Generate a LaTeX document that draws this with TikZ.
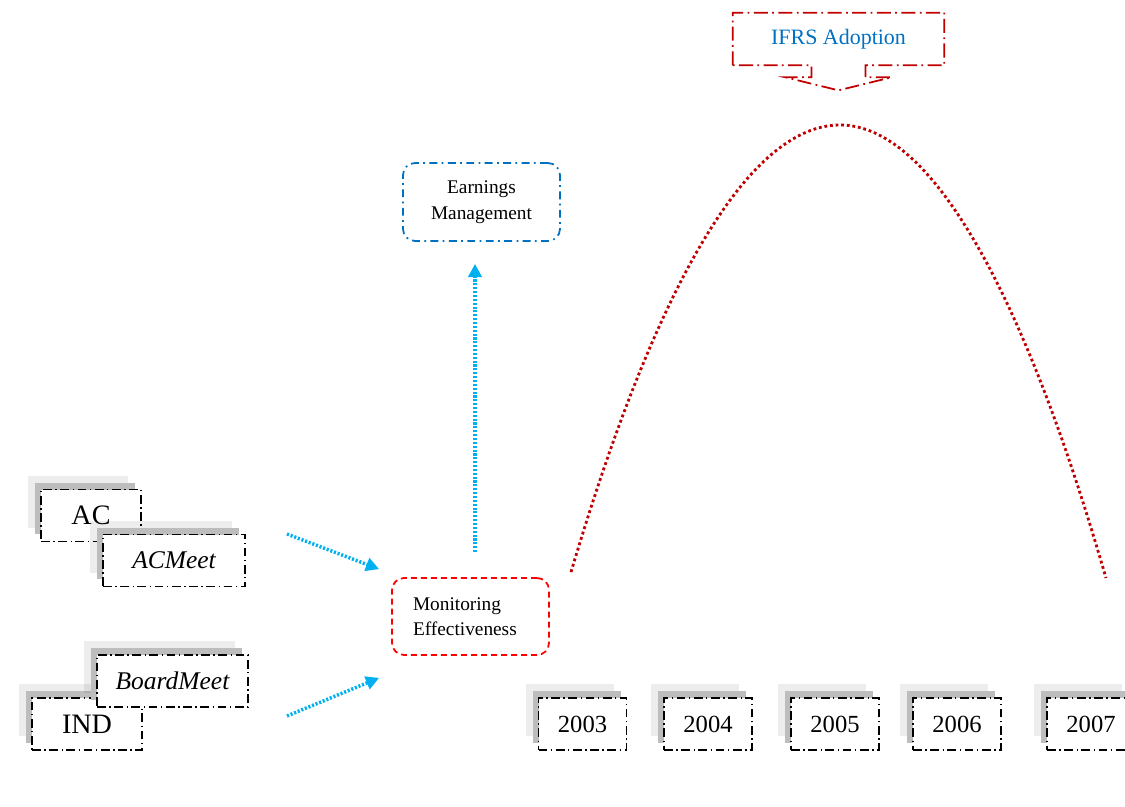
\documentclass[tikz,border=0pt]{standalone}
\usepackage{fontspec}
\setmainfont{Liberation Serif}
\usepackage{tikz}
\usetikzlibrary{shadows, arrows.meta, calc}
\definecolor{ifrsred}{HTML}{C00000}
\definecolor{ifrsblue}{HTML}{0070C0}
\definecolor{flowblue}{HTML}{00B0F0}
\definecolor{monred}{HTML}{FF0000}
\tikzstyle{varbox} = [draw, fill=white, line width=0.75pt, inner sep=0pt,
  dash pattern=on 5pt off 2pt on 0.8pt off 2pt, minimum height=1.04cm,
  general shadow={shadow xshift=-0.26cm, shadow yshift=0.28cm, fill=black, fill opacity=0.07},
  general shadow={shadow xshift=-0.12cm, shadow yshift=0.14cm, fill=black!26}]
\tikzstyle{bigvar} = [varbox, font=\fontsize{16}{19}\selectfont]
\tikzstyle{itvar} = [varbox, font=\fontsize{14.5}{17}\selectfont\itshape]
\tikzstyle{yearbox} = [varbox, minimum width=1.76cm, font=\fontsize{14}{17}\selectfont]
\tikzstyle{embox} = [draw=ifrsblue, line width=1pt, rounded corners=0.24cm,
  dash pattern=on 4.5pt off 2.5pt on 1pt off 2.5pt, align=center,
  minimum width=3.14cm, minimum height=1.56cm, font=\fontsize{11}{14.7}\selectfont]
\tikzstyle{monbox} = [draw=monred, line width=1pt, rounded corners=0.24cm,
  dash pattern=on 3.4pt off 2.3pt, align=left, text width=2.3cm, inner xsep=0.42cm,
  minimum height=1.54cm, font=\fontsize{11}{14.2}\selectfont]
\tikzstyle{ifrsbox} = [minimum width=4.22cm, minimum height=1.04cm, text=ifrsblue,
  font=\fontsize{12.5}{15}\selectfont]
\tikzstyle{callout} = [draw=ifrsred, line width=1pt, dash pattern=on 8pt off 2.5pt on 1pt off 2.5pt]
\tikzstyle{flow} = [draw=flowblue, line width=2pt,
  dash pattern=on 1.2pt off 1pt, -{Triangle[length=7.5pt, width=7.5pt]}]
\tikzstyle{trend} = [draw=ifrsred, line width=1.6pt, dash pattern=on 1.6pt off 1.6pt]

\begin{document}
\begin{tikzpicture}[x=0.02cm, y=-0.02cm]
  \useasboundingbox (0,0) rectangle (1125,807);

  % variables
  \node [bigvar, minimum width=2cm] (ac) at (91,515.5) {AC};
  \node [itvar, minimum width=2.84cm] (acmeet) at (174,560.5) {ACMeet};
  \node [bigvar, minimum width=2.2cm] (ind) at (87,724) {IND};
  \node [itvar, minimum width=3.02cm] (boardmeet) at (172.5,681) {BoardMeet};

  % years
  \foreach \yr/\xc in {2003/582.5, 2004/708, 2005/835, 2006/957, 2007/1091}
    \node [yearbox] (y\yr) at (\xc,724) {\yr};

  \node [embox] (earn) at (481.5,202) {Earnings\\Management};
  \node [monbox] (mon) at (470.5,616.5) {Monitoring\\Effectiveness};

  % IFRS callout
  \node [ifrsbox] (ifrs) at (838.5,39) {IFRS Adoption};
  \draw [callout] (ifrs.south west) -- (ifrs.north west) -- (ifrs.north east) -- (ifrs.south east)
    -- ($(ifrs.south)+(27,0)$) -- ++(0,12) -- ++(26,0) -- ($(ifrs.south)+(0,25)$)
    -- ($(ifrs.south)+(-53,12)$) -- ++(26,0) -- ++(0,-12) -- cycle;

  % trend
  \coordinate (rise) at (571,572);
  \coordinate (peak) at (840,125);
  \coordinate (fall) at (1106,578);
  \draw [trend] (rise) parabola bend (peak) (fall);

  % arrows
  \coordinate (acout) at (287,534);
  \coordinate (boardout) at (287,716);
  \draw [flow] (acout) -- ($(mon.north west)+(-12,-8)$);
  \draw [flow] (boardout) -- ($(mon.south west)+(-12,22)$);
  \draw [flow, shorten <=0.5cm, shorten >=0.44cm] ([xshift=0.09cm]mon.north)
    -- ([xshift=0.09cm]mon.north |- earn.south);
\end{tikzpicture}
\end{document}
